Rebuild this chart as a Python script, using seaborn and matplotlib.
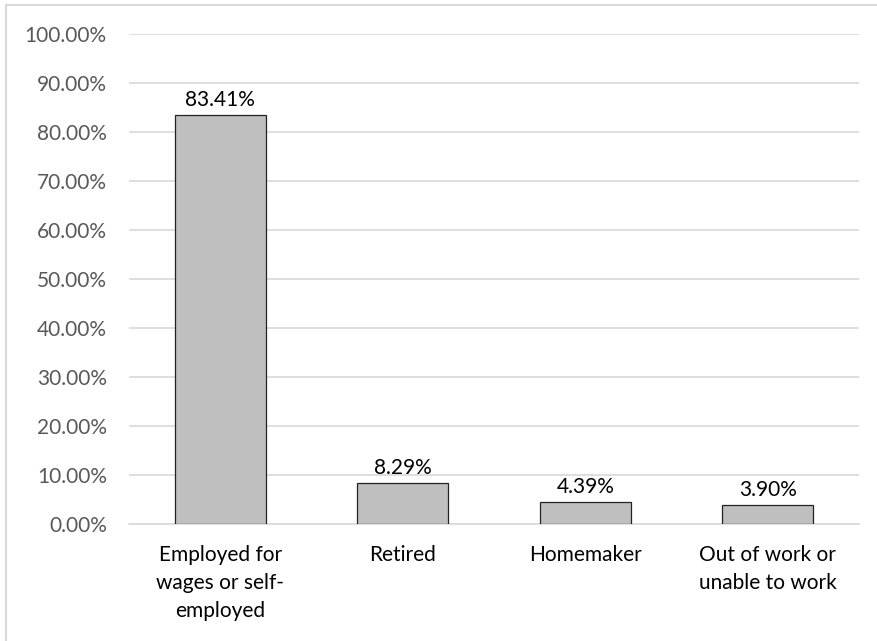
import matplotlib
matplotlib.use("Agg")
import matplotlib.pyplot as plt
from matplotlib.lines import Line2D
from matplotlib.ticker import FuncFormatter, MultipleLocator
import seaborn as sns
import pandas as pd

categories = [
    "Employed for\nwages or self-\nemployed",
    "Retired",
    "Homemaker",
    "Out of work or\nunable to work",
]
shares = [83.41, 8.29, 4.39, 3.90]

sns.set_theme(style="white")
plt.rcParams["font.family"] = ["Lato", "DejaVu Sans"]

df = pd.DataFrame({"category": categories, "share": [v / 100 for v in shares]})

fig = plt.figure(figsize=(8.77, 6.41), dpi=100)
ax = fig.add_axes([129 / 877, 1 - 524 / 641, (859 - 129) / 877, (524 - 34) / 641])

sns.barplot(data=df, x="category", y="share", color="#BFBFBF", width=0.5,
            edgecolor="#222222", linewidth=0.9, saturation=1, ax=ax, zorder=3)

ax.set_ylim(0, 1.0)
ax.set_xlim(-0.5, 3.5)
ax.yaxis.set_major_locator(MultipleLocator(0.1))
ax.yaxis.set_major_formatter(FuncFormatter(lambda v, _: f"{v * 100:.2f}%"))
ax.grid(axis="y", color="#D9D9D9", linewidth=1.2, zorder=0)
ax.grid(axis="x", visible=False)
for side in ["top", "right", "left"]:
    ax.spines[side].set_visible(False)
ax.spines["bottom"].set_color("#D9D9D9")
ax.spines["bottom"].set_linewidth(1.2)
ax.set_xlabel("")
ax.set_ylabel("")
ax.tick_params(axis="y", labelsize=15, labelcolor="#595959", length=0, pad=16)
ax.tick_params(axis="x", labelsize=15, labelcolor="#000000", length=0, pad=15)
for lbl in ax.get_xticklabels():
    lbl.set_linespacing(1.5)

for i, v in enumerate(shares):
    ax.text(i, v / 100 + 0.011, f"{v:.2f}%", ha="center", va="bottom",
            fontsize=15, color="#000000")

# light frame on the left and top edges
fig.add_artist(Line2D([6 / 877, 6 / 877], [0, 1 - 5 / 641], transform=fig.transFigure,
                      color="#D9D9D9", linewidth=1.5))
fig.add_artist(Line2D([6 / 877, 1], [1 - 5 / 641, 1 - 5 / 641], transform=fig.transFigure,
                      color="#D9D9D9", linewidth=1.5))

fig.savefig("out.png", dpi=100, facecolor="white")
